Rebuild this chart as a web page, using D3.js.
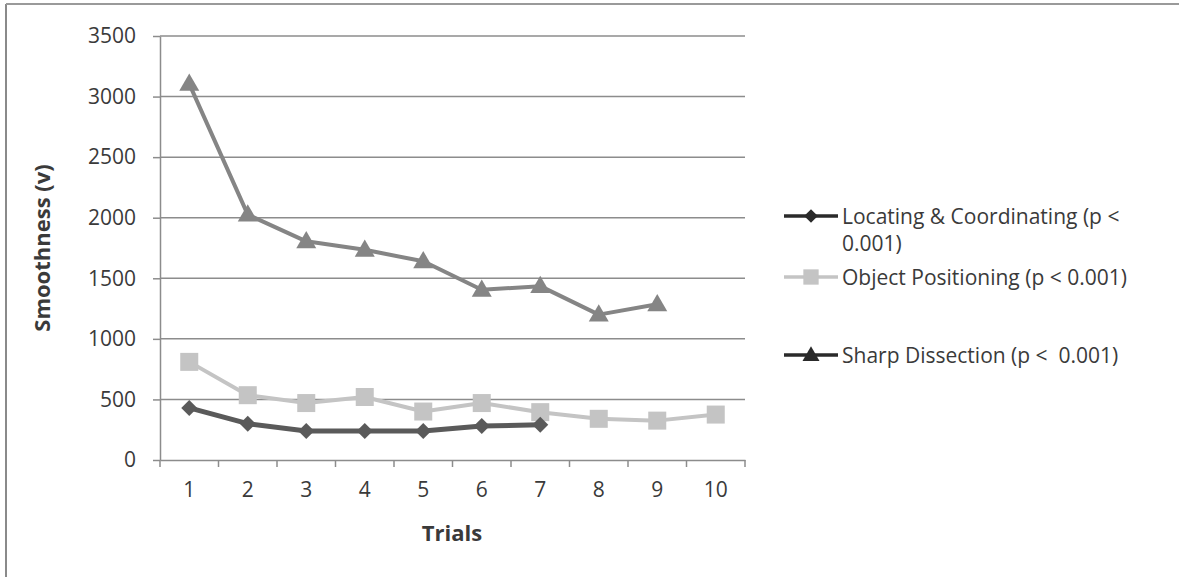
<!DOCTYPE html>
<html>
<head>
<meta charset="utf-8">
<script src="https://cdn.jsdelivr.net/npm/d3@7"></script>
<style>
  html, body { margin: 0; padding: 0; background: #fff; }
  svg { display: block; }
  text { font-family: "Open Sans", "Liberation Sans", sans-serif; fill: #3a3a3a; }
</style>
</head>
<body>
<svg id="chart" width="1179" height="577"></svg>
<script>
// Trial numbers along the x axis
const trials = ["1", "2", "3", "4", "5", "6", "7", "8", "9", "10"];

// Mean smoothness per trial for each task
const locating = [430, 300, 240, 240, 240, 280, 290];
const objectPositioning = [810, 535, 470, 520, 400, 470, 395, 340, 325, 375];
const sharpDissection = [3105, 2025, 1805, 1735, 1640, 1405, 1435, 1200, 1285];

const yTicks = [0, 500, 1000, 1500, 2000, 2500, 3000, 3500];

const seriesNames = [
  ["Locating & Coordinating (p <", "0.001)"],
  ["Object Positioning (p < 0.001)"],
  ["Sharp Dissection (p <  0.001)"]
];

const series = [
  { name: seriesNames[0], values: locating, color: "#5a5a5a", marker: "diamond" },
  { name: seriesNames[1], values: objectPositioning, color: "#c4c4c4", marker: "square" },
  { name: seriesNames[2], values: sharpDissection, color: "#858585", marker: "triangle" }
];

const svg = d3.select("#chart");
const plot = { left: 160, right: 745, top: 36, bottom: 460 };

// Outer chart frame (only the left and top edges fall inside the view)
svg.append("line").attr("x1", 6).attr("x2", 6).attr("y1", 4).attr("y2", 577)
  .attr("stroke", "#8a8a8a").attr("stroke-width", 2);
svg.append("line").attr("x1", 6).attr("x2", 1179).attr("y1", 4).attr("y2", 4)
  .attr("stroke", "#9a9a9a").attr("stroke-width", 2);

const x = d3.scaleBand().domain(trials).range([plot.left, plot.right]);
const y = d3.scaleLinear().domain([0, 3500]).range([plot.bottom, plot.top]);

// Horizontal gridlines
svg.append("g").selectAll("line").data(yTicks.filter(d => d > 0)).join("line")
  .attr("x1", plot.left).attr("x2", plot.right)
  .attr("y1", d => y(d)).attr("y2", d => y(d))
  .attr("stroke", "#8c8c8c").attr("stroke-width", 1.5);

// Y axis
const yAxis = svg.append("g").attr("transform", `translate(${plot.left},0)`)
  .call(d3.axisLeft(y).tickValues(yTicks).tickFormat(d3.format("d"))
    .tickSize(7).tickPadding(17).tickSizeOuter(0));
yAxis.select(".domain").attr("stroke", "#8c8c8c").attr("stroke-width", 1.5);
yAxis.selectAll(".tick line").attr("stroke", "#8c8c8c").attr("stroke-width", 1.5);
yAxis.selectAll(".tick text").attr("font-size", 21).attr("fill", "#3a3a3a")
  .attr("font-family", "'Open Sans', sans-serif");

// X axis with ticks between categories
const xAxis = svg.append("g").attr("transform", `translate(0,${plot.bottom})`)
  .call(d3.axisBottom(x).tickSize(0).tickPadding(22));
xAxis.select(".domain").attr("stroke", "#8c8c8c").attr("stroke-width", 1.5);
xAxis.selectAll(".tick text").attr("font-size", 21).attr("fill", "#3a3a3a")
  .attr("font-family", "'Open Sans', sans-serif");
const bounds = trials.map(t => x(t)).concat([x(trials[trials.length - 1]) + x.bandwidth()]);
svg.append("g").selectAll("line").data(bounds).join("line")
  .attr("x1", d => d).attr("x2", d => d)
  .attr("y1", plot.bottom).attr("y2", plot.bottom + 7)
  .attr("stroke", "#8c8c8c").attr("stroke-width", 1.5);

// Axis titles
svg.append("text").attr("x", 452).attr("y", 541).attr("text-anchor", "middle")
  .attr("font-size", 22).attr("font-weight", "bold").text("Trials");
svg.append("text").attr("transform", "translate(50,248) rotate(-90)")
  .attr("text-anchor", "middle").attr("font-size", 22).attr("font-weight", "bold")
  .text("Smoothness (v)");

const cx = (d, i) => x(trials[i]) + x.bandwidth() / 2;

function drawMarker(g, type, color, px, py, s) {
  if (type === "diamond") {
    const h = s / 2;
    g.append("path").attr("d", `M${px},${py - h}L${px + h},${py}L${px},${py + h}L${px - h},${py}Z`)
      .attr("fill", color);
  } else if (type === "square") {
    g.append("rect").attr("x", px - s / 2).attr("y", py - s / 2)
      .attr("width", s).attr("height", s).attr("fill", color);
  } else {
    const h = s * 0.866;
    g.append("path")
      .attr("d", `M${px},${py - h * 0.6}L${px + s / 2},${py + h * 0.4}L${px - s / 2},${py + h * 0.4}Z`)
      .attr("fill", color);
  }
}

const line = d3.line().x(cx).y(d => y(d));
const sizes = { diamond: 16, square: 18, triangle: 20 };

// Draw series back to front
[series[1], series[2], series[0]].forEach(s => {
  const g = svg.append("g");
  g.append("path").datum(s.values).attr("d", line)
    .attr("fill", "none").attr("stroke", s.color)
    .attr("stroke-width", s.marker === "diamond" ? 5 : 4)
    .attr("stroke-linejoin", "round");
  s.values.forEach((v, i) => drawMarker(g, s.marker, s.color, cx(v, i), y(v), sizes[s.marker]));
});

// Legend
const legendY = [216, 277, 355];
series.forEach((s, i) => {
  const g = svg.append("g");
  const ly = legendY[i];
  const c = i === 1 ? s.color : "#2a2a2a";
  g.append("line").attr("x1", 784).attr("x2", 838).attr("y1", ly).attr("y2", ly)
    .attr("stroke", c).attr("stroke-width", 3.5);
  drawMarker(g, s.marker, c, 811, ly, sizes[s.marker] * 0.85);
  s.name.forEach((t, k) => {
    g.append("text").attr("x", 842).attr("y", ly + 8 + k * 27)
      .attr("font-size", 21).style("white-space", "pre").text(t);
  });
});
</script>
</body>
</html>
